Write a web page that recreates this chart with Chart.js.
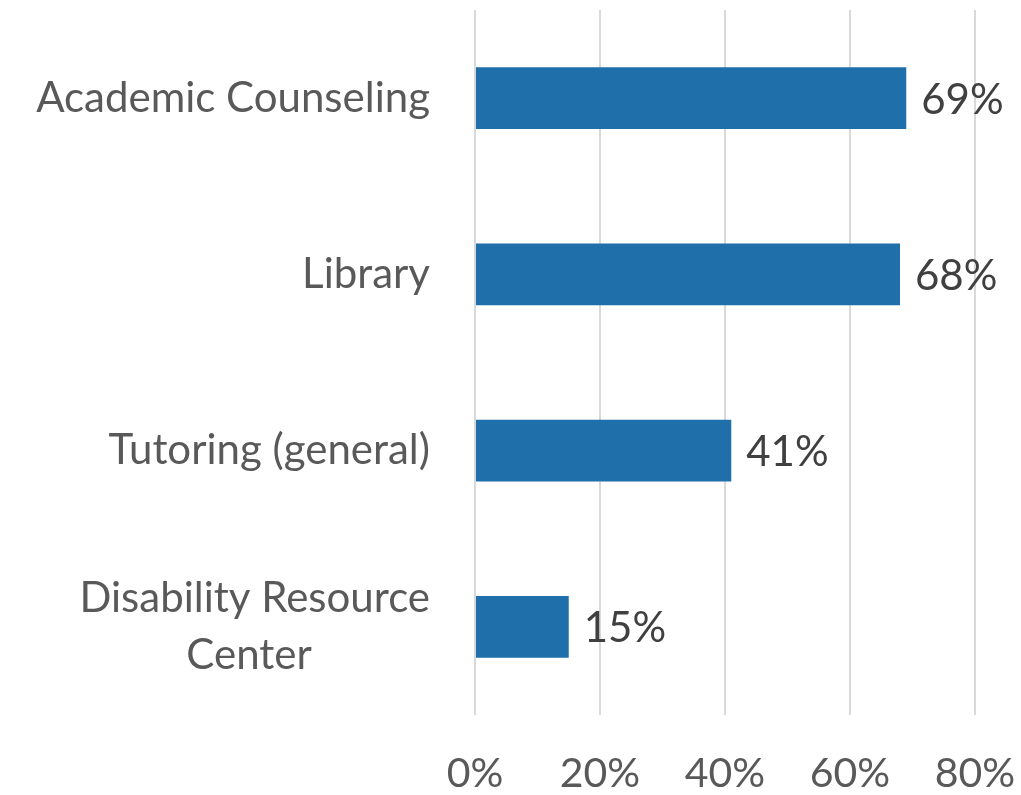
<!DOCTYPE html>
<html>
<head>
<meta charset="utf-8">
<script src="https://cdn.jsdelivr.net/npm/chart.js@4/dist/chart.umd.min.js"></script>
<style>
  html, body { margin: 0; padding: 0; background: #fff; }
  #wrap { width: 1021px; height: 795px; }
</style>
</head>
<body>
<div id="wrap"><canvas id="chart"></canvas></div>
<script>
'use strict';

// data
const categories = [
  'Academic Counseling',
  'Library',
  'Tutoring (general)',
  ['Disability Resource', 'Center           ']
];
const usage = [69, 68, 41, 15];
const tickValues = [0, 20, 40, 60, 80];

const fontFamily = 'Lato, "Open Sans", sans-serif';

// writes the percent next to each bar
const barLabels = {
  id: 'barLabels',
  afterDatasetsDraw(chart) {
    const ctx = chart.ctx;
    const meta = chart.getDatasetMeta(0);
    ctx.save();
    ctx.font = '42px ' + fontFamily;
    ctx.fillStyle = '#404040';
    ctx.textAlign = 'left';
    ctx.textBaseline = 'middle';
    meta.data.forEach((bar, i) => {
      ctx.fillText(usage[i] + '%', bar.x + 15, bar.y + 2);
    });
    ctx.restore();
  }
};

new Chart(document.getElementById('chart'), {
  type: 'bar',
  data: {
    labels: categories,
    datasets: [{
      data: usage,
      backgroundColor: '#1f6fab',
      barPercentage: 0.35,
      categoryPercentage: 1.0
    }]
  },
  options: {
    indexAxis: 'y',
    responsive: true,
    maintainAspectRatio: false,
    animation: false,
    layout: { padding: { top: 10, right: 46, left: 0, bottom: 0 } },
    plugins: {
      legend: { display: false },
      tooltip: { enabled: false }
    },
    scales: {
      x: {
        min: tickValues[0],
        max: tickValues[tickValues.length - 1],
        afterBuildTicks: (s) => { s.ticks = tickValues.map(v => ({ value: v })); },
        grid: { color: '#d9d9d9', lineWidth: 2, drawTicks: false },
        border: { display: false },
        ticks: {
          callback: (v) => v + '%',
          color: '#595959',
          font: { family: fontFamily, size: 41 },
          padding: 34,
          maxRotation: 0
        },
        afterFit: (s) => {
          s.height = 80;
          s.paddingLeft = 0;
          s.paddingRight = 0;
        }
      },
      y: {
        grid: { display: false, drawTicks: false },
        border: { display: false },
        ticks: {
          color: '#595959',
          font: { family: fontFamily, size: 42, lineHeight: 1.36 },
          padding: 45
        },
        afterFit: (s) => {
          s.width = 475;
          s.paddingTop = 0;
          s.paddingBottom = 0;
        }
      }
    }
  },
  plugins: [barLabels]
});
</script>
</body>
</html>
